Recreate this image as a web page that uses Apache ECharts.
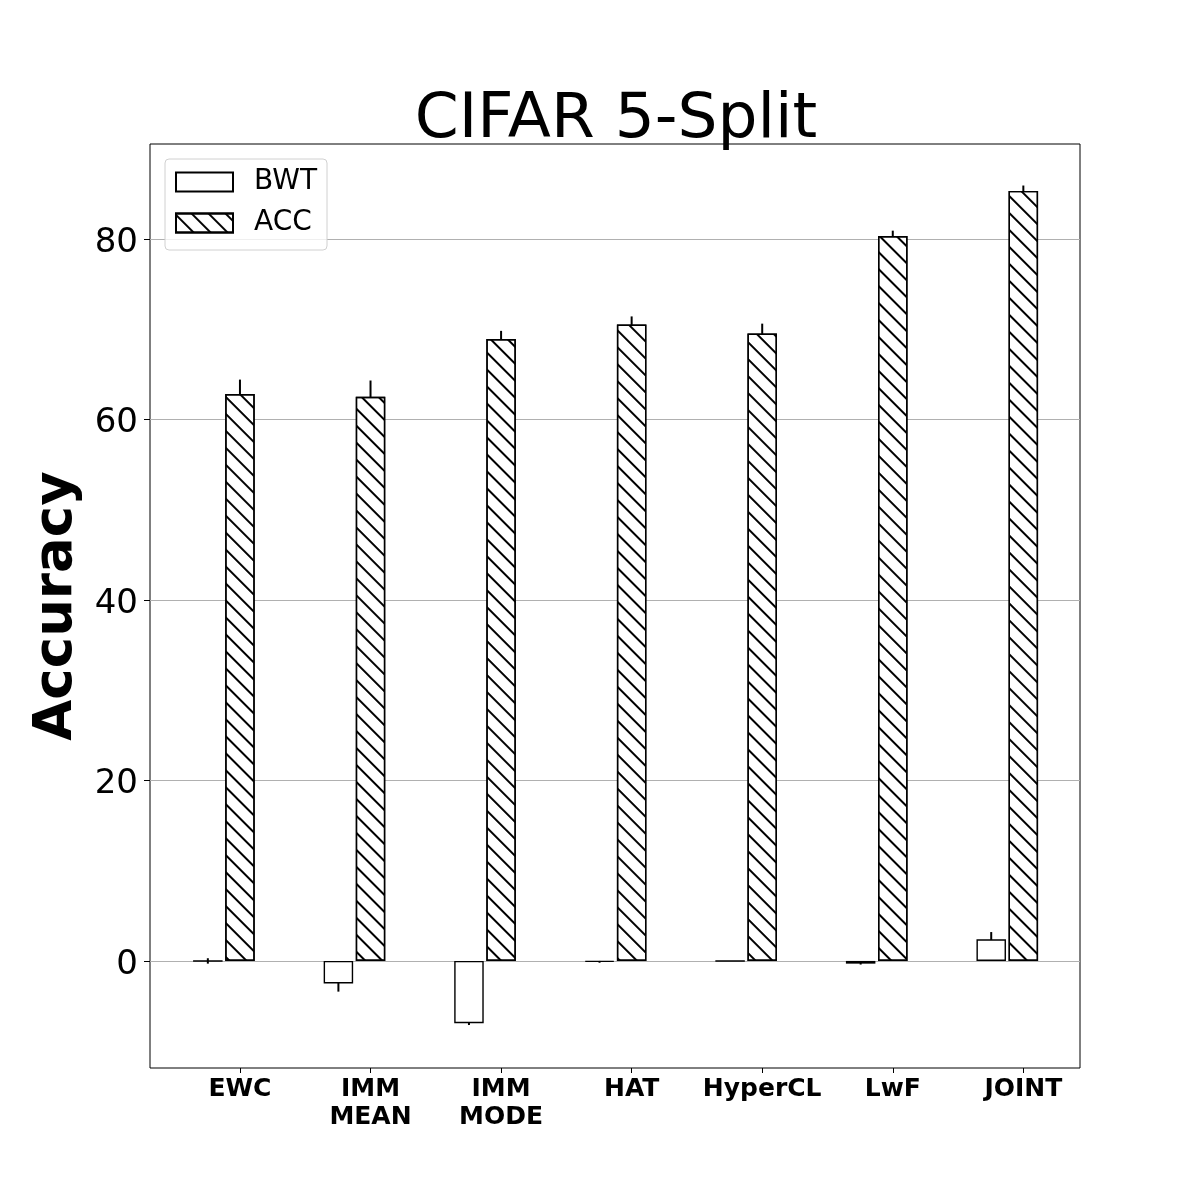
<!DOCTYPE html>
<html>
<head>
<meta charset="utf-8">
<script src="https://cdn.jsdelivr.net/npm/echarts@6/dist/echarts.min.js"></script>
<style>
  html, body { margin: 0; padding: 0; background: #fff; }
  #chart { width: 1200px; height: 1200px; }
</style>
</head>
<body>
<div id="chart"></div>
<script>
const CATEGORIES = ["EWC", "IMM\nMEAN", "IMM\nMODE", "HAT", "HyperCL", "LwF", "JOINT"];
const BWT = [0.0, -2.5, -6.9, -0.1, 0.0, -0.3, 2.4];
const BWT_ERR = [0.3, 0.9, 0.2, 0.1, 0.0, 0.1, 0.8];
const ACC = [62.8, 62.5, 68.9, 70.5, 69.5, 80.3, 85.3];
const ACC_ERR = [1.6, 1.8, 0.9, 0.9, 1.1, 0.6, 0.6];
const Y_TICKS = [0, 20, 40, 60, 80];
const X_TICKS = [0, 1, 2, 3, 4, 5, 6];

// ACC bar sits on the tick, BWT bar one bar-width to the left
const BWT_SHIFT = -0.246;
const FONT = "DejaVu Sans";

const HATCH = {
  symbol: "rect",
  symbolSize: 1,
  color: "#000",
  dashArrayX: [1, 0],
  dashArrayY: [1.3, 9.8],
  rotation: Math.PI / 4,
};

const xPos = (i, shift) => i + shift;

function errorSeries(name, values, errs, shift) {
  return {
    name,
    type: "custom",
    z: 1,
    silent: true,
    data: values.map((v, i) => [xPos(i, shift), v, errs[i]]),
    renderItem: (params, api) => {
      const x = api.value(0), v = api.value(1), e = api.value(2);
      const p1 = api.coord([x, v - e]);
      const p2 = api.coord([x, v + e]);
      return {
        type: "line",
        shape: { x1: p1[0], y1: p1[1], x2: p2[0], y2: p2[1] },
        style: { stroke: "#000", lineWidth: 2 },
      };
    },
  };
}

const chart = echarts.init(document.getElementById("chart"));
chart.setOption({
  animation: false,
  textStyle: { fontFamily: FONT },
  title: {
    text: "CIFAR 5-Split",
    left: 611,
    textAlign: "center",
    top: 84,
    textStyle: { fontFamily: FONT, fontSize: 63, fontWeight: "normal", color: "#000" },
  },
  legend: {
    data: ["BWT", "ACC"],
    orient: "vertical",
    left: 165,
    top: 159,
    padding: [9, 10, 13, 10],
    itemGap: 13,
    itemWidth: 57,
    itemHeight: 19,
    icon: "rect",
    backgroundColor: "rgba(255,255,255,0.8)",
    borderColor: "#d0d0d0",
    borderWidth: 1,
    borderRadius: 4,
    textStyle: { fontFamily: FONT, fontSize: 28, color: "#000", padding: [0, 0, 0, 16] },
  },
  grid: {
    left: 150, right: 120, top: 144, bottom: 132,
    show: true, borderColor: "#000", borderWidth: 1,
  },
  xAxis: {
    type: "value",
    min: -0.689,
    max: 6.434,
    axisLine: { show: false, onZero: false },
    splitLine: { show: false },
    axisTick: { show: true, customValues: X_TICKS, length: 5, lineStyle: { color: "#000" } },
    axisLabel: {
      customValues: X_TICKS,
      formatter: v => CATEGORIES[Math.round(v)] || "",
      fontFamily: FONT, fontSize: 25, fontWeight: "bold", lineHeight: 28,
      color: "#000", margin: 7,
    },
  },
  yAxis: {
    type: "value",
    min: -11.86,
    max: 90.5,
    name: "Accuracy",
    nameLocation: "middle",
    nameGap: 52,
    nameRotate: 90,
    nameTextStyle: { fontFamily: FONT, fontSize: 53, fontWeight: "bold", color: "#000" },
    axisLine: { show: false, onZero: false },
    axisTick: { show: true, customValues: Y_TICKS, length: 6, lineStyle: { color: "#000" } },
    axisLabel: {
      customValues: Y_TICKS,
      formatter: v => "{t|" + v + "}",
      rich: { t: { fontFamily: FONT, fontSize: 34, color: "#000", padding: [8, 0, 0, 0] } },
      margin: 12,
    },
    splitLine: { show: true, lineStyle: { color: "#b0b0b0", width: 1 } },
  },
  series: [
    {
      name: "BWT",
      type: "bar",
      z: 3,
      barWidth: 29.5,
      barGap: "-100%",
      itemStyle: { color: "#fff", borderColor: "#000", borderWidth: 1.4 },
      data: BWT.map((v, i) => [xPos(i, BWT_SHIFT), v]),
    },
    {
      name: "ACC",
      type: "bar",
      z: 3,
      barWidth: 29.5,
      barGap: "-100%",
      itemStyle: { color: "#fff", borderColor: "#000", borderWidth: 1.4, decal: HATCH },
      data: ACC.map((v, i) => [xPos(i, 0), v]),
    },
    errorSeries("BWT err", BWT, BWT_ERR, BWT_SHIFT),
    errorSeries("ACC err", ACC, ACC_ERR, 0),
  ],
});
</script>
</body>
</html>
